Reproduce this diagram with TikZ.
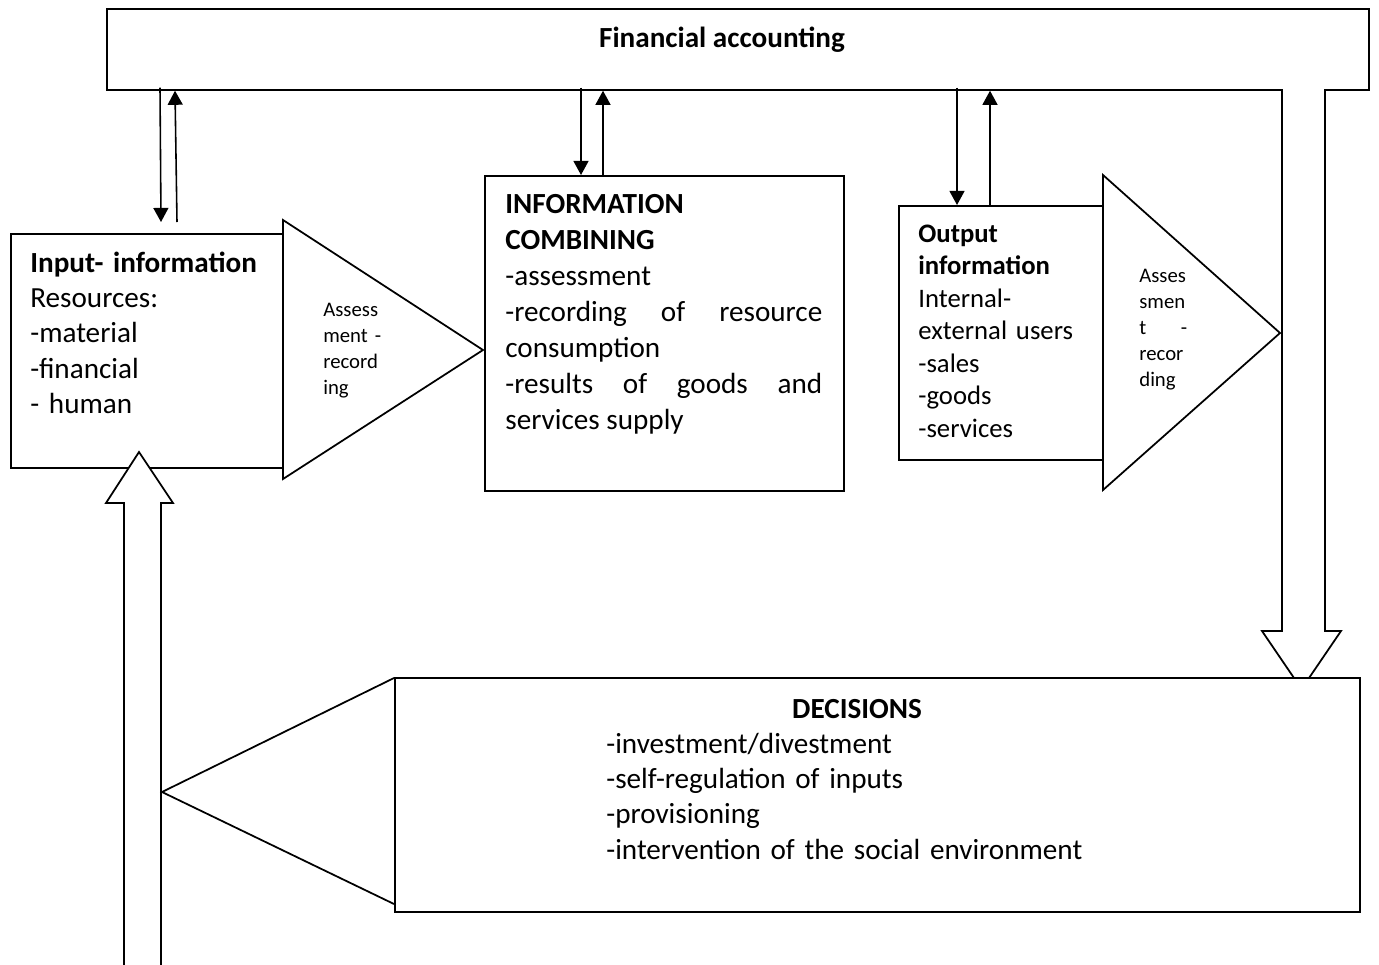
\documentclass[tikz,border=0pt]{standalone}
\usepackage{fontspec}
\setmainfont{Carlito}
\usetikzlibrary{positioning,calc,arrows.meta}
\tikzset{box/.style={draw,line width=1pt,fill=white,inner sep=0pt,anchor=north west},
  shape line/.style={draw,line width=1pt,fill=white,line join=miter},
  flow/.style={line width=0.9pt,-{Triangle[length=8pt,width=8.5pt]}},
  txt/.style={inner sep=0pt,anchor=base west,align=left,font=\fontsize{16.6}{20.2}\selectfont},
  small/.style={inner sep=0pt,anchor=base west,align=left,font=\fontsize{11.8}{14.8}\selectfont}}

\begin{document}
\begin{tikzpicture}[x=0.02cm,y=-0.02cm]
				\useasboundingbox (0,0) rectangle (1379,964);

				% boxes
				\node[box,minimum width=25.24cm,minimum height=1.62cm] (fa) at (106,8) {};
				\node[box,minimum width=5.46cm,minimum height=4.68cm] (input) at (10,233) {};
				\node[box,minimum width=7.18cm,minimum height=6.30cm] (combining) at (484,175) {};
				\node[box,minimum width=4.10cm,minimum height=5.08cm] (output) at (898,205) {};

				% triangles
				\path[shape line] (283,220) -- (483,350) -- (283,479) -- cycle;
				\path[shape line] (1103,175) -- (1280,333) -- (1103,490) -- cycle;

				% block arrows
				\path[shape line] (1282,89) -- (1282,631) -- (1262,631) -- (1301.5,689) -- (1341,631) -- (1325,631) -- (1325,89);
				\path[shape line] (124,970) -- (124,503) -- (106,503) -- (139,452) -- (173,503) -- (161,503) -- (161,970);
				\path[shape line] (394,678) -- (162,792) -- (394,904);
				\node[box,minimum width=19.30cm,minimum height=4.68cm] (decisions) at (394,677) {};

				% flows to and from financial accounting
				\draw[flow] ($(fa.south west)+(54,-3)$) -- ($(input.north west)+(151,-11)$);
				\draw[flow] ($(input.north west)+(167,-11)$) -- ($(fa.south west)+(69,0)$);
				\draw[flow] ($(fa.south west)+(475,-3)$) -- ($(combining.north west)+(97,0)$);
				\draw[flow] ($(combining.north west)+(119,0)$) -- ($(fa.south west)+(497,0)$);
				\draw[flow] ($(fa.south west)+(851,-3)$) -- ($(output.north west)+(59,0)$);
				\draw[flow] ($(output.north west)+(92,0)$) -- ($(fa.south west)+(884,0)$);

				% texts
				\node[txt,anchor=base] (fa text) at (722,47) {\textbf{Financial accounting}};
				\node[txt,text width=5cm] (input text) at (30,272) {\textbf{Input- information}\\Resources:\\-material\\-financial\\- human};
				\node[small,text width=1.5cm] (assess1) at (323,316) {Assess\\ment -\\record\\ing};
				\node[txt,text width=6.34cm,align=justify,font=\fontsize{16.6}{20.5}\selectfont] (combining text) at (505,213)
					{\textbf{INFORMATION}\\\textbf{COMBINING}\\-assessment\\-recording of resource\linebreak consumption\\-results of goods and\linebreak services supply};
				\node[txt,text width=4cm,font=\fontsize{15.2}{18.5}\selectfont] (output text) at (918,242) {\textbf{Output}\\\textbf{information}\\Internal-\\external users\\-sales\\-goods\\-services};
				\node[small,text width=0.96cm] (assess2) at (1139,282) {Asses\\smen\\t\hfill -\\recor\\ding};
				\node[txt,anchor=base] (decisions title) at (857,718) {\textbf{DECISIONS}};
				\node[txt,text width=12cm] (decisions text) at (606,753) {-investment/divestment\\-self-regulation of inputs\\-provisioning\\-intervention of the social environment};
			\end{tikzpicture}
\end{document}
